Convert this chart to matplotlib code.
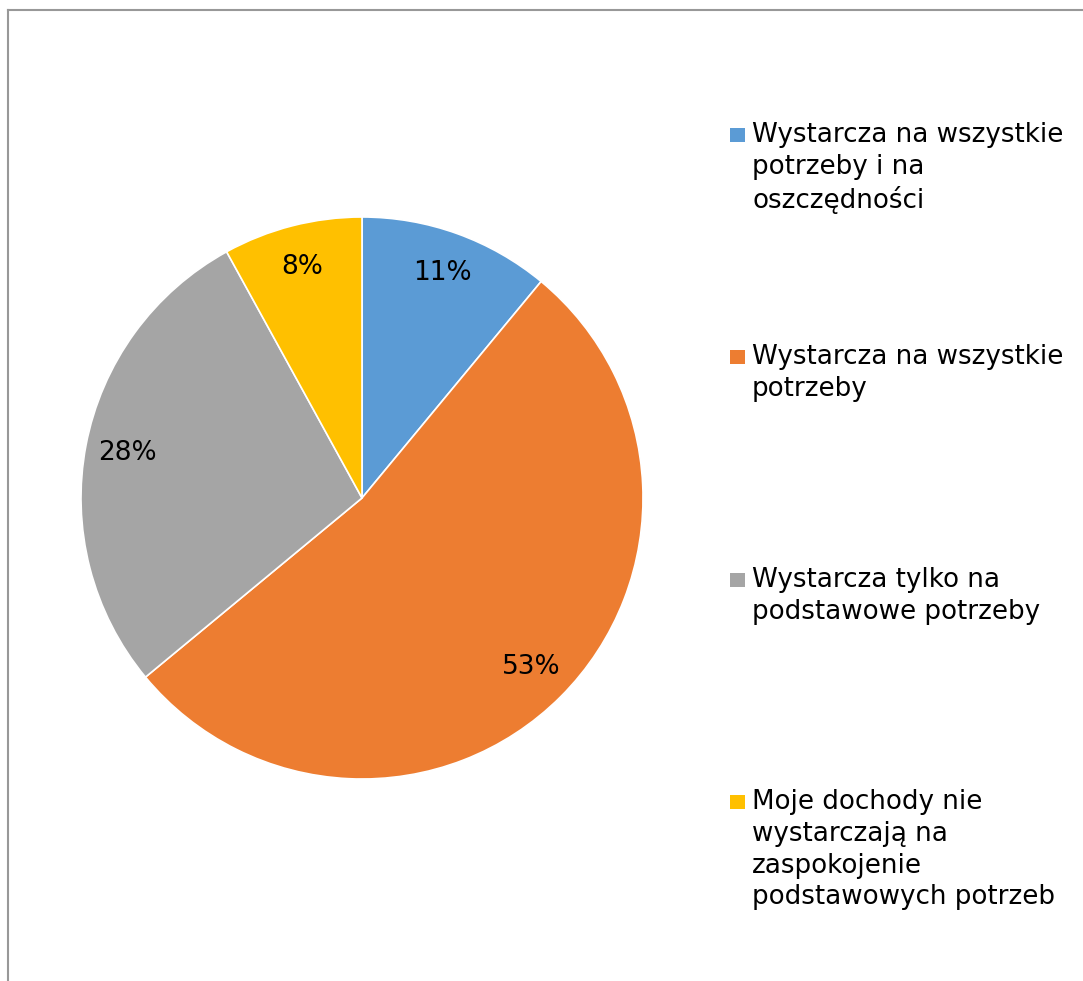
import matplotlib
matplotlib.use('Agg')
import matplotlib.pyplot as plt
from matplotlib.lines import Line2D
from matplotlib.patches import Rectangle

labels = ['Wystarcza na wszystkie\npotrzeby i na\noszczędności',
          'Wystarcza na wszystkie\npotrzeby',
          'Wystarcza tylko na\npodstawowe potrzeby',
          'Moje dochody nie\nwystarczają na\nzaspokojenie\npodstawowych potrzeb']
values = [11, 53, 28, 8]
colors = ['#5B9BD5', '#ED7D31', '#A5A5A5', '#FFC000']

W, H = 1083, 981
fig = plt.figure(figsize=(W / 100, H / 100), dpi=100)

# pie axes: centre (362, 498), radius 281 px
cx, cy, r = 362, 498, 281
ax = fig.add_axes([(cx - r) / W, (H - cy - r) / H, 2 * r / W, 2 * r / H])
ax.pie(values, colors=colors, startangle=90, counterclock=False, radius=1,
       autopct='%1.0f%%', pctdistance=0.85,
       wedgeprops=dict(edgecolor='white', linewidth=1.2),
       textprops=dict(fontsize=19, color='black'))
ax.set_xlim(-1, 1)
ax.set_ylim(-1, 1)
ax.set_aspect('equal')
ax.axis('off')

# legend drawn by hand
tops = [122, 344, 567, 789]
for lab, col, t in zip(labels, colors, tops):
    fig.text(752 / W, 1 - t / H, lab, fontsize=18.8, va='top', ha='left',
             linespacing=1.29)
    fig.add_artist(Rectangle((730 / W, 1 - (142 + t - 122) / H), 15 / W, 14 / H,
                             transform=fig.transFigure, color=col, lw=0))

# chart border (top and left only visible)
fig.add_artist(Line2D([8 / W, 8 / W], [0, 1 - 10 / H], transform=fig.transFigure,
                      color='#989898', lw=1.5))
fig.add_artist(Line2D([8 / W, 1], [1 - 10 / H, 1 - 10 / H], transform=fig.transFigure,
                      color='#989898', lw=1.5))

fig.savefig('out.png', dpi=100)
